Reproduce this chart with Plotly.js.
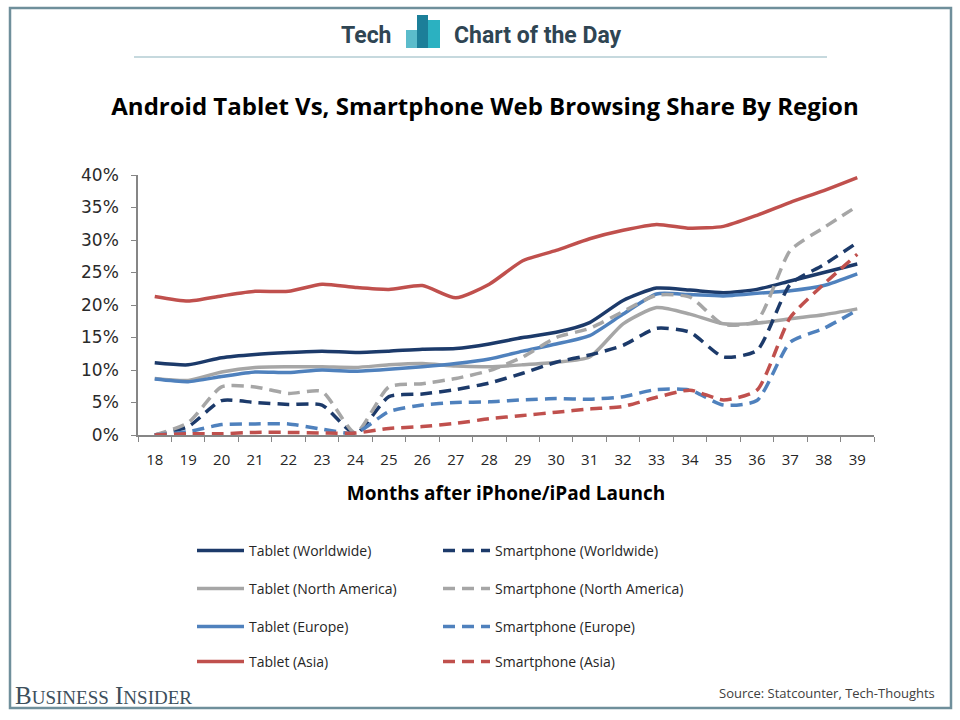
<!DOCTYPE html>
<html><head><meta charset="utf-8">
<script src="https://cdn.plot.ly/plotly-3.0.1.min.js"></script>
<style>html,body{margin:0;padding:0;background:#fff}#chart{width:960px;height:720px}</style>
</head><body><div id="chart"></div>
<script>
// ---- data (percent of web browsing share) ----
const months = ['18','19','20','21','22','23','24','25','26','27','28','29','30','31','32','33','34','35','36','37','38','39'];
const tabletWorldwide     = [11.1,10.8,11.9,12.4,12.7,12.9,12.7,12.9,13.2,13.3,14.0,15.0,15.8,17.3,20.7,22.6,22.3,21.9,22.4,23.7,25.0,26.3];
const tabletNorthAmerica  = [8.7,8.4,9.7,10.4,10.5,10.5,10.4,10.8,11.0,10.6,10.5,10.8,11.2,12.0,17.1,19.6,18.6,17.1,17.2,17.9,18.5,19.4];
const tabletEurope        = [8.6,8.2,9.0,9.7,9.6,10.0,9.8,10.1,10.5,11.0,11.7,12.9,14.0,15.3,18.6,21.7,21.6,21.4,21.8,22.2,23.0,24.8];
const tabletAsia          = [21.3,20.6,21.4,22.1,22.1,23.2,22.7,22.4,23.0,21.1,23.2,26.8,28.4,30.2,31.5,32.4,31.8,32.1,33.8,35.8,37.6,39.6];
const phoneWorldwide      = [0.0,1.3,5.3,5.0,4.7,4.6,0.2,5.9,6.3,7.0,8.0,9.5,11.2,12.3,13.8,16.4,15.8,12.0,13.0,23.2,26.2,29.6];
const phoneNorthAmerica   = [0.0,1.9,7.4,7.4,6.4,6.7,0.3,7.4,7.9,8.7,9.9,12.0,15.0,16.4,19.0,21.5,21.2,17.0,17.6,28.4,31.9,35.2];
const phoneEurope         = [0.0,0.5,1.6,1.7,1.7,0.9,0.3,3.6,4.6,5.0,5.1,5.4,5.6,5.5,5.9,7.0,6.9,4.6,5.3,14.3,16.4,19.2];
const phoneAsia           = [0.0,0.2,0.2,0.4,0.4,0.3,0.3,1.0,1.3,1.8,2.5,3.0,3.5,4.0,4.4,5.8,6.9,5.4,6.9,18.1,23.2,27.8];

const yTicks = [0,5,10,15,20,25,30,35,40];
const yTickLabels = ['0%','5%','10%','15%','20%','25%','30%','35%','40%'];

// ---- styling ----
const navy = '#1C3A6A', grey = '#A6A6A6', blue = '#4F81BD', red = '#C0504D';
const DASH = '12px,7px';

function tr(name, y, color, dashed, legend) {
  return {
    type: 'scatter', mode: 'lines', name: name, x: months, y: y,
    line: {color: color, width: 3.5, shape: 'spline', smoothing: 0.6, dash: dashed ? DASH : 'solid'},
    legend: legend, hoverinfo: 'x+y+name'
  };
}

const data = [
  tr('Tablet (Worldwide)', tabletWorldwide, navy, false, 'legend'),
  tr('Tablet (North America)', tabletNorthAmerica, grey, false, 'legend2'),
  tr('Tablet (Europe)', tabletEurope, blue, false, 'legend3'),
  tr('Tablet (Asia)', tabletAsia, red, false, 'legend4'),
  tr('Smartphone (Worldwide)', phoneWorldwide, navy, true, 'legend'),
  tr('Smartphone (North America)', phoneNorthAmerica, grey, true, 'legend2'),
  tr('Smartphone (Europe)', phoneEurope, blue, true, 'legend3'),
  tr('Smartphone (Asia)', phoneAsia, red, true, 'legend4')
];

// plot area in pixels
const L = 138, R = 874, T = 175, B = 435;
const px = x => (x - L) / (R - L);
const py = y => (B - y) / (B - T);

function legendRow(yPix) {
  return {
    orientation: 'h', xref: 'container', yref: 'container',
    x: 192 / 960, y: 1 - yPix / 720, xanchor: 'left', yanchor: 'middle',
    entrywidth: 184, entrywidthmode: 'pixels', itemwidth: 47,
    font: {family: 'Open Sans, sans-serif', size: 14, color: '#262626'},
    bgcolor: 'rgba(0,0,0,0)', borderwidth: 0, traceorder: 'normal',
    itemclick: false, itemdoubleclick: false
  };
}

const layout = {
  width: 960, height: 720,
  paper_bgcolor: '#ffffff', plot_bgcolor: '#ffffff',
  margin: {l: L, r: 960 - R, t: T, b: 720 - B, pad: 0},
  showlegend: true,
  title: {
    text: 'Android Tablet Vs, Smartphone Web Browsing Share By Region',
    font: {family: 'Open Sans, sans-serif', size: 24, color: '#000000', weight: 'bold'},
    x: 485 / 960, xanchor: 'center', xref: 'container',
    y: 1 - 107 / 720, yanchor: 'middle', yref: 'container'
  },
  xaxis: {
    type: 'category', categoryorder: 'array', categoryarray: months,
    range: [-0.5, months.length - 0.5],
    tickson: 'boundaries', ticks: 'outside', ticklen: 5, tickcolor: '#868686', tickwidth: 1.3,
    showline: true, linecolor: '#868686', linewidth: 1.5,
    showgrid: false, zeroline: false,
    tickfont: {family: 'Open Sans, sans-serif', size: 15, color: '#262626'},
    ticklabelstandoff: 10,
    title: {text: 'Months after iPhone/iPad Launch', standoff: 19,
            font: {family: 'Open Sans, sans-serif', size: 19, color: '#000000', weight: 'bold'}},
    automargin: false, fixedrange: true
  },
  yaxis: {
    range: [0, 40], tickmode: 'array', tickvals: yTicks, ticktext: yTickLabels,
    ticks: 'outside', ticklen: 5, tickcolor: '#868686', tickwidth: 1.3,
    showline: true, linecolor: '#868686', linewidth: 1.5,
    showgrid: false, zeroline: false,
    tickfont: {family: 'DejaVu Sans, sans-serif', size: 17, color: '#2a2a2a'},
    ticklabelstandoff: 9, automargin: false, fixedrange: true
  },
  legend: legendRow(551),
  legend2: legendRow(589),
  legend3: legendRow(627),
  legend4: legendRow(662),
  shapes: [
    // outer frame
    {type: 'rect', xref: 'paper', yref: 'paper', x0: px(10), x1: px(951), y0: py(8), y1: py(708),
     line: {color: '#6F8F9B', width: 2.5}, fillcolor: 'rgba(0,0,0,0)', layer: 'below'},
    // header rule
    {type: 'line', xref: 'paper', yref: 'paper', x0: px(134), x1: px(827), y0: py(57), y1: py(57),
     line: {color: '#B3CDD3', width: 1.5}},
    // logo bars
    {type: 'rect', xref: 'paper', yref: 'paper', x0: px(406), x1: px(417), y0: py(48), y1: py(30),
     line: {width: 0}, fillcolor: '#5BBCCB'},
    {type: 'rect', xref: 'paper', yref: 'paper', x0: px(417), x1: px(428), y0: py(48), y1: py(15),
     line: {width: 0}, fillcolor: '#1C7F99'},
    {type: 'rect', xref: 'paper', yref: 'paper', x0: px(428), x1: px(440), y0: py(48), y1: py(20),
     line: {width: 0}, fillcolor: '#2BB1C1'}
  ],
  annotations: [
    {text: '<b>Tech</b>', xref: 'paper', yref: 'paper', x: px(366), y: py(36), xanchor: 'center', yanchor: 'middle',
     showarrow: false, font: {family: 'Roboto, sans-serif', size: 23, color: '#2F4553'}},
    {text: '<b>Chart of the Day</b>', xref: 'paper', yref: 'paper', x: px(452), y: py(36), xanchor: 'left', yanchor: 'middle',
     showarrow: false, font: {family: 'Roboto, sans-serif', size: 23, color: '#2F4553'}},
    {text: 'B<span style="font-size:19px">USINESS</span> I<span style="font-size:19px">NSIDER</span>',
     xref: 'paper', yref: 'paper', x: px(13), y: py(695), xanchor: 'left', yanchor: 'middle',
     showarrow: false, font: {family: 'Liberation Serif, serif', size: 25, color: '#3D4F5C'}},
    {text: 'Source: Statcounter, Tech-Thoughts', xref: 'paper', yref: 'paper', x: px(937), y: py(693),
     xanchor: 'right', yanchor: 'middle', showarrow: false,
     font: {family: 'Open Sans, sans-serif', size: 13, color: '#404040'}}
  ]
};

Plotly.newPlot('chart', data, layout, {displayModeBar: false});
</script>
</body></html>
